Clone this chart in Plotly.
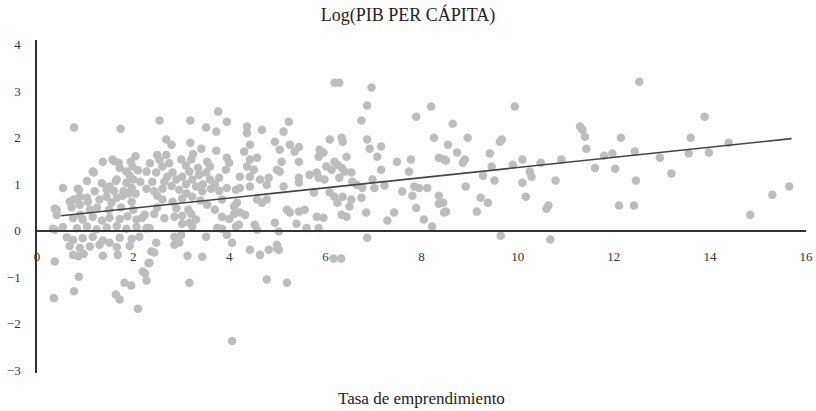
import plotly.graph_objects as go

# Data (x = Tasa de emprendimiento, y = Log(PIB per cápita))
band_a = [(0.77,2.22),(1.74,2.19),(1.37,1.48),(1.60,1.50),(1.70,1.46),(1.18,1.25),(1.04,1.07),(0.54,0.92),
          (0.87,0.88),(1.64,1.07),(1.45,0.88),(1.60,0.86),(0.77,0.67),(1.04,0.71),(0.41,0.45),(0.72,0.50),(0.90,0.34),
          (1.57,1.53),(1.99,1.38),(1.16,1.27),(1.66,1.10),(1.51,0.95),(1.86,1.03),(1.97,0.92),(0.85,0.90),(0.89,0.73),
          (0.68,0.62),(0.89,0.56),(1.06,0.62),(1.30,0.67),(1.45,0.73),(1.66,0.71),(1.78,0.75),(1.97,0.62),(0.37,0.47),
          (0.41,0.34),(0.75,0.27),(0.95,0.24),(1.16,0.30),(1.35,0.22),(1.51,0.28),(1.72,0.25),(1.88,0.31),(2.07,0.24),
          (2.19,0.28),(0.33,0.04),(0.54,0.08),(0.83,0.05),(1.04,0.09),(1.24,0.03),(1.45,0.07),(1.66,0.10),(1.86,0.04),
          (2.07,0.08),(2.28,0.05),(0.62,-0.14),(0.75,-0.20),(0.95,-0.16),(1.16,-0.13),(1.37,-0.21),(1.51,-0.26),
          (1.72,-0.15),(1.97,-0.18),(2.13,-0.13),(0.68,-0.33),(0.89,-0.37),(1.10,-0.34),(1.30,-0.30),(1.66,-0.35),
          (1.93,-0.33),(0.75,-0.52),(0.86,-0.55),(0.97,-0.50),(1.37,-0.54),(1.68,-0.52),(0.37,0.02),(0.37,-0.66),
          (0.35,-1.45),(0.77,-1.30),(0.87,-0.99),(1.82,-1.12),(1.96,-1.18),(1.64,-1.37),(1.72,-1.48),(2.10,-1.68),
          (2.20,-0.88),(2.25,-0.92),(2.28,-1.07),(2.32,-0.70),(1.72,1.35),(1.86,1.27),(1.93,1.18),(2.00,1.10),
          (1.80,0.85),(1.90,0.80),(1.55,0.60),(1.25,0.50),(1.10,0.45),(1.50,0.45),(1.75,0.50),(2.00,0.45),(1.20,0.85),
          (1.35,1.02),(1.95,1.48),(2.05,1.60),(2.10,1.30),(2.15,1.05),(2.05,0.80)]

band_b = [(2.55,2.37),(3.19,2.37),(3.77,2.56),(3.95,2.34),(3.52,2.22),(3.73,2.13),(2.69,1.96),(2.80,1.85),
          (3.19,1.89),(3.42,1.76),(3.73,1.72),(3.95,1.57),(2.50,1.63),(2.69,1.63),(3.00,1.53),(3.21,1.53),(3.54,1.48),
          (4.00,1.46),(3.93,1.31),(3.79,1.14),(2.28,1.27),(2.48,1.25),(2.61,1.38),(2.71,1.16),(2.82,1.25),(2.90,1.10),
          (3.02,1.16),(3.17,1.27),(3.23,1.10),(3.37,1.20),(3.52,1.25),(2.28,0.90),(2.44,0.85),(2.61,0.90),(2.80,0.96),
          (2.96,0.88),(3.11,0.80),(3.31,0.95),(3.44,0.85),(3.62,0.90),(3.79,0.86),(3.95,0.92),(4.14,0.88),(2.61,0.67),
          (2.82,0.62),(3.02,0.69),(3.23,0.73),(3.54,0.56),(3.85,0.67),(4.10,0.52),(2.24,0.34),(2.44,0.36),(2.65,0.27),
          (2.86,0.30),(3.02,0.32),(3.21,0.36),(3.31,0.24),(3.85,0.30),(4.00,0.25),(4.10,0.36),(3.02,0.15),(3.17,0.17),
          (3.23,0.09),(2.34,0.06),(2.86,-0.13),(3.00,-0.09),(3.52,-0.13),(3.75,0.06),(3.85,0.04),(4.14,0.09),
          (3.95,-0.09),(2.48,-0.26),(2.86,-0.30),(2.96,-0.26),(4.06,-0.26),(2.38,-0.45),(2.44,-0.47),(3.13,-0.54),
          (3.44,-0.56),(2.34,-0.69),(3.17,-1.12),(4.06,-2.37),(2.35,1.45),(2.55,1.52),(2.75,1.45),(3.10,1.40),
          (3.35,1.35),(3.60,1.38),(3.25,1.65),(3.60,1.10),(2.40,1.05),(2.65,1.05),(3.10,1.00),(3.45,1.00),(3.70,1.00),
          (2.50,0.75),(3.40,0.65),(3.70,0.45),(2.90,0.48),(2.50,0.50),(3.15,0.45)]

band_c = [(6.19,3.18),(5.24,2.34),(4.37,2.24),(4.37,2.10),(4.68,2.17),(5.13,2.13),(4.95,1.91),(6.09,1.96),
          (4.43,1.85),(4.31,1.70),(5.05,1.74),(5.26,1.85),(5.45,1.80),(5.36,1.70),(5.88,1.74),(5.96,1.68),(5.86,1.59),
          (4.58,1.57),(4.43,1.53),(4.37,1.38),(4.51,1.31),(5.09,1.48),(5.45,1.48),(6.02,1.38),(6.13,1.31),(4.99,1.31),
          (5.05,1.27),(5.82,1.25),(4.22,1.16),(4.43,1.16),(4.64,1.10),(4.82,1.14),(4.78,0.99),(5.45,1.14),(5.45,1.03),
          (5.67,1.20),(5.86,1.14),(5.98,1.10),(4.43,0.95),(4.22,0.92),(5.13,0.95),(5.76,0.82),(6.09,0.82),(6.19,0.73),
          (4.58,0.67),(4.68,0.60),(4.78,0.67),(4.16,0.60),(4.22,0.39),(4.33,0.34),(5.20,0.45),(5.26,0.39),(5.45,0.41),
          (5.57,0.45),(5.82,0.30),(5.96,0.28),(4.20,0.13),(4.53,0.13),(4.58,0.02),(4.95,0.17),(5.03,-0.02),(5.40,0.15),
          (5.61,0.06),(5.86,0.06),(4.43,-0.41),(4.64,-0.52),(4.82,-0.41),(4.99,-0.30),(5.03,-0.41),(4.99,-0.37),
          (4.78,-1.05),(5.20,-1.12),(6.17,-0.60),(6.33,-0.60)]

band_d = [(6.29,3.18),(6.96,3.08),(6.87,2.69),(6.75,2.37),(8.20,2.67),(7.89,2.45),(6.34,2.00),(6.36,1.91),
          (6.87,1.96),(6.92,1.76),(7.16,1.81),(6.44,1.59),(6.19,1.48),(6.25,1.42),(6.34,1.35),(6.40,1.27),(6.54,1.25),
          (6.29,1.14),(7.08,1.59),(7.16,1.31),(7.49,1.48),(7.78,1.53),(7.74,1.27),(8.26,2.00),(8.36,1.57),(8.47,1.53),
          (6.98,1.10),(7.23,0.97),(7.02,0.92),(6.77,0.92),(6.75,0.71),(6.56,1.05),(6.65,0.99),(7.60,0.84),(7.85,0.95),
          (7.95,0.92),(8.12,0.92),(7.81,0.75),(8.36,0.75),(6.36,0.73),(6.54,0.67),(6.50,0.52),(6.25,0.60),(7.89,0.49),
          (8.36,0.58),(6.34,0.34),(6.44,0.30),(6.85,0.39),(7.43,0.39),(7.29,0.22),(8.05,0.24),(8.22,0.09),(6.87,-0.15),
          (8.47,0.39)]

band_e = [(9.94,2.67),(8.65,2.30),(11.30,2.24),(11.35,2.17),(11.40,2.02),(8.96,2.00),(9.63,1.91),(9.67,1.96),
          (8.55,1.85),(8.74,1.68),(9.42,1.66),(11.43,1.76),(8.51,1.51),(8.90,1.53),(8.86,1.46),(9.46,1.38),(9.90,1.42),
          (10.10,1.53),(10.25,1.27),(10.29,1.16),(10.48,1.46),(10.91,1.53),(11.80,1.61),(11.97,1.66),(11.61,1.35),
          (9.28,1.18),(9.52,1.08),(10.10,1.03),(10.79,1.08),(8.92,0.95),(9.23,0.71),(9.38,0.60),(10.17,0.73),
          (10.64,0.54),(10.60,0.47),(8.51,0.41),(8.45,0.60),(9.15,0.41),(9.65,-0.11),(10.68,-0.19)]

band_f = [(12.53,3.20),(13.89,2.45),(12.15,2.00),(13.60,2.00),(14.39,1.89),(12.44,1.70),(12.96,1.57),(13.56,1.66),
          (13.98,1.68),(12.03,1.33),(13.20,1.23),(12.46,1.08),(12.11,0.54),(12.42,0.54),(14.84,0.34),(15.30,0.77),
          (15.65,0.95)]

trend_x = [0.50, 15.70]
trend_y = [0.32, 1.98]

x_ticks = [0, 2, 4, 6, 8, 10, 12, 14, 16]
y_ticks = [-3, -2, -1, 0, 1, 2, 3, 4]

points = band_a + band_b + band_c + band_d + band_e + band_f
tasa = [p[0] for p in points]
log_pib = [p[1] for p in points]

FONT = "Liberation Serif"
Y_MIN, Y_MAX = -3.06, 4.10
W, H = 816, 411

fig = go.Figure()
fig.add_trace(go.Scatter(x=tasa, y=log_pib, mode="markers",
                         marker=dict(size=8.5, color="#BDBDBD", line=dict(width=0)),
                         showlegend=False, hoverinfo="skip"))
fig.add_trace(go.Scatter(x=trend_x, y=trend_y, mode="lines",
                         line=dict(color="#444444", width=1.6),
                         showlegend=False, hoverinfo="skip"))

fig.update_layout(
    width=W, height=H,
    margin=dict(l=37, r=3, t=40, b=38),
    paper_bgcolor="white", plot_bgcolor="white",
    font=dict(family=FONT, size=13, color="#222222"),
    title=dict(text="Log(PIB PER CÁPITA)", x=0.5, xanchor="center",
               y=1 - 15 / H, yanchor="middle",
               font=dict(family=FONT, size=18, color="#222222")),
    xaxis=dict(range=[0, 16], tickvals=x_ticks, ticktext=[str(v) for v in x_ticks],
               showgrid=False, zeroline=False, showline=True, linecolor="#333333", linewidth=1.5,
               ticks="", anchor="free", position=(0 - Y_MIN) / (Y_MAX - Y_MIN),
               ticklabelstandoff=14, ticklabeloverflow="allow",
               tickfont=dict(family=FONT, size=13, color="#333333")),
    yaxis=dict(range=[Y_MIN, Y_MAX], tickvals=y_ticks,
               ticktext=[("−" + str(-v)) if v < 0 else str(v) for v in y_ticks],
               showgrid=False, zeroline=False, showline=True, linecolor="#333333", linewidth=1.5,
               ticks="", ticklabelstandoff=12, tickfont=dict(family=FONT, size=13, color="#333333")),
)

fig.add_annotation(text="Tasa de emprendimiento", xref="paper", yref="paper",
                   x=0.5, y=-(398 - 373) / 333, xanchor="center", yanchor="middle",
                   showarrow=False, font=dict(family=FONT, size=17, color="#222222"))

# remove the browser's default page margin so the figure sits at the window's top-left corner
fig.write_html("out.html", config={"displayModeBar": False},
               post_script="document.body.style.margin='0';document.body.style.overflow='hidden';")
